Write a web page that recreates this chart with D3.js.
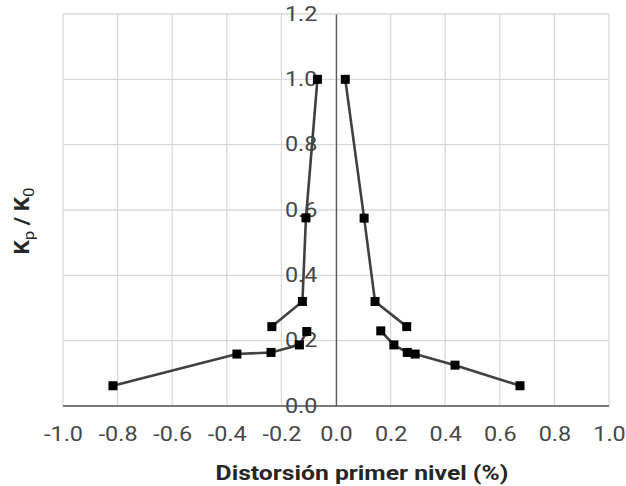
<!DOCTYPE html>
<html>
<head>
<meta charset="utf-8">
<script src="https://cdn.jsdelivr.net/npm/d3@7"></script>
<style>
  body { margin: 0; background: #fff; }
  text { font-family: Roboto, "Liberation Sans", Arial, sans-serif; }
</style>
</head>
<body>
<script>
// distortion (%) vs Kp/K0, four branches of the hysteresis envelope
let leftUpper = [[-0.068, 1.0], [-0.11, 0.576], [-0.123, 0.32], [-0.235, 0.243]];
let leftLower = [[-0.817, 0.062], [-0.363, 0.159], [-0.238, 0.164], [-0.134, 0.187], [-0.107, 0.228]];
let rightUpper = [[0.034, 1.0], [0.103, 0.575], [0.143, 0.32], [0.259, 0.243]];
let rightLower = [[0.164, 0.23], [0.212, 0.187], [0.261, 0.164], [0.29, 0.159], [0.436, 0.125], [0.674, 0.062]];
let series = [leftUpper, leftLower, rightUpper, rightLower];

let xTicks = [-1.0, -0.8, -0.6, -0.4, -0.2, 0.0, 0.2, 0.4, 0.6, 0.8, 1.0];
let yTicks = [0.0, 0.2, 0.4, 0.6, 0.8, 1.0, 1.2];

let width = 626,
    height = 486;

let margin = { top: 14, bottom: 80, left: 63, right: 17 };

// the original text is drawn a bit wide
let stretch = 1.2;

let svg = d3.select('body')
  .append('svg')
    .attr('width', width)
    .attr('height', height);

let xScale = d3.scaleLinear()
  .domain([-1, 1])
  .range([margin.left, width - margin.right]);

let yScale = d3.scaleLinear()
  .domain([0, 1.2])
  .range([height - margin.bottom, margin.top]);

// grid
svg.append('g')
  .selectAll('line')
  .data(xTicks)
  .enter().append('line')
    .attr('x1', d => xScale(d)).attr('x2', d => xScale(d))
    .attr('y1', yScale(0)).attr('y2', yScale(1.2))
    .attr('stroke', '#d9d9d9')
    .attr('stroke-width', 1.3);

svg.append('g')
  .selectAll('line')
  .data(yTicks)
  .enter().append('line')
    .attr('x1', xScale(-1)).attr('x2', xScale(1))
    .attr('y1', d => yScale(d)).attr('y2', d => yScale(d))
    .attr('stroke', '#d9d9d9')
    .attr('stroke-width', 1.3);

// axes through the origin
let xAxis = svg.append('g')
  .attr('transform', `translate(0,${yScale(0)})`)
  .call(d3.axisBottom(xScale).tickValues(xTicks).tickFormat(d3.format('.1f')).tickSize(0).tickPadding(21));

let yAxis = svg.append('g')
  .attr('transform', `translate(${xScale(0)},0)`)
  .call(d3.axisLeft(yScale).tickValues(yTicks).tickFormat(d3.format('.1f')).tickSize(0).tickPadding(15.5));

[xAxis, yAxis].forEach(a => {
  a.select('.domain').attr('stroke', '#595959').attr('stroke-width', 1.3);
  a.selectAll('text')
    .style('font-size', '19.5px')
    .attr('fill', '#474747')
    .attr('transform', `scale(${stretch},1)`)
    .text(function() { return d3.select(this).text().replace('−', '-'); });
});
xAxis.select('.domain').attr('d', `M${xScale(-1)},0H${xScale(1)}`);

// lines
let line = d3.line()
  .x(d => xScale(d[0]))
  .y(d => yScale(d[1]));

svg.append('g')
  .selectAll('path')
  .data(series)
  .enter().append('path')
    .attr('d', line)
    .attr('fill', 'none')
    .attr('stroke', '#404040')
    .attr('stroke-width', 2.6);

// square markers
svg.append('g')
  .selectAll('rect')
  .data(series.flat())
  .enter().append('rect')
    .attr('x', d => xScale(d[0]) - 4.5)
    .attr('y', d => yScale(d[1]) - 4.5)
    .attr('width', 9)
    .attr('height', 9)
    .attr('fill', '#000');

// titles
svg.append('text')
  .attr('transform', 'translate(362,480) scale(1.175,1)')
  .attr('text-anchor', 'middle')
  .style('font-size', '21px')
  .style('font-weight', 'bold')
  .attr('fill', '#262626')
  .text('Distorsión primer nivel (%)');

let yTitle = svg.append('text')
  .attr('transform', 'translate(29,221) rotate(-90) scale(1.12,1)')
  .attr('text-anchor', 'middle')
  .style('font-size', '20px')
  .style('font-weight', 'bold')
  .attr('fill', '#262626');
yTitle.append('tspan').text('K');
yTitle.append('tspan').attr('dy', 5).style('font-size', '15px').style('font-weight', 'normal').text('p');
yTitle.append('tspan').attr('dy', -5).text(' / K');
yTitle.append('tspan').attr('dy', 5).style('font-size', '15px').style('font-weight', 'normal').text('0');
</script>
</body>
</html>
